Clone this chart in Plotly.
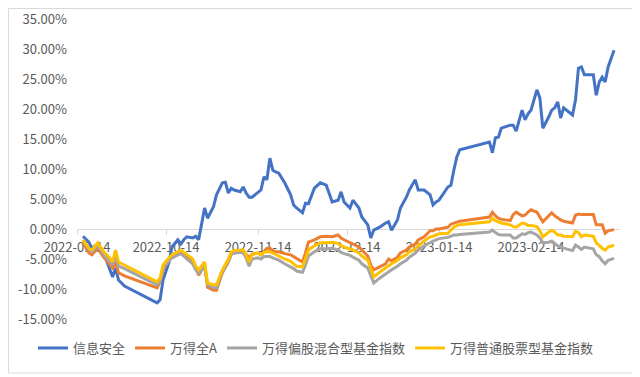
import plotly.graph_objects as go

dates = [
    "2022-09-16", "2022-09-18", "2022-09-19", "2022-09-21", "2022-09-23", "2022-09-25", "2022-09-26", "2022-09-27", "2022-09-28", "2022-09-30",
    "2022-10-11", "2022-10-12", "2022-10-13", "2022-10-15", "2022-10-16", "2022-10-18", "2022-10-19", "2022-10-20", "2022-10-21", "2022-10-23",
    "2022-10-24", "2022-10-25", "2022-10-27", "2022-10-28", "2022-10-30", "2022-10-31",
    "2022-11-02", "2022-11-03", "2022-11-04", "2022-11-05", "2022-11-06", "2022-11-08", "2022-11-09", "2022-11-10", "2022-11-11", "2022-11-12",
    "2022-11-14", "2022-11-15", "2022-11-16", "2022-11-17", "2022-11-18", "2022-11-19", "2022-11-20", "2022-11-21",
    "2022-11-23", "2022-11-25", "2022-11-26", "2022-11-27", "2022-11-29", "2022-11-30", "2022-12-01", "2022-12-03", "2022-12-05", "2022-12-07",
    "2022-12-09", "2022-12-11", "2022-12-12", "2022-12-13",
    "2022-12-15", "2022-12-16", "2022-12-18", "2022-12-19", "2022-12-21", "2022-12-22", "2022-12-23", "2022-12-25", "2022-12-27", "2022-12-28",
    "2022-12-29", "2022-12-31", "2023-01-01",
    "2023-01-03", "2023-01-04", "2023-01-06", "2023-01-07", "2023-01-09", "2023-01-11", "2023-01-12", "2023-01-13", "2023-01-14", "2023-01-17",
    "2023-01-18", "2023-01-19", "2023-01-20", "2023-01-21",
    "2023-01-31", "2023-02-01", "2023-02-02", "2023-02-03", "2023-02-04", "2023-02-07", "2023-02-08", "2023-02-09", "2023-02-11", "2023-02-12",
    "2023-02-13", "2023-02-14",
    "2023-02-16", "2023-02-17", "2023-02-18", "2023-02-20", "2023-02-21", "2023-02-22", "2023-02-23", "2023-02-24", "2023-02-25", "2023-02-28",
    "2023-03-01", "2023-03-02", "2023-03-03", "2023-03-04", "2023-03-07", "2023-03-08", "2023-03-09", "2023-03-10", "2023-03-11", "2023-03-12",
    "2023-03-14",
]

# 信息安全 (%)
info_security = [
    -1.2, -2.2, -3.2, -2.5, -4.0, -6.5, -8.0, -6.5, -8.5, -9.5,
    -12.3, -11.8, -8.5, -5.5, -3.0, -1.8, -2.5, -1.8, -1.3, -1.5,
    -1.2, -1.8, 3.5, 1.8, 3.7, 5.7,
    7.7, 7.8, 6.0, 6.8, 6.5, 6.2, 7.0, 6.0, 5.3, 5.3,
    6.0, 6.5, 8.7, 8.2, 11.8, 9.8, 9.5, 9.3,
    7.7, 5.7, 4.0, 3.5, 2.7, 4.3, 4.2, 6.8, 7.7, 7.3,
    4.5, 4.8, 6.2, 4.5,
    3.5, 4.8, 3.5, 2.0, 0.7, -1.5, -0.2, 0.3, 1.0, 1.2,
    -0.2, 1.5, 3.5,
    5.3, 6.5, 8.2, 6.5, 6.5, 5.7, 4.0, 4.5, 4.8, 7.0,
    7.3, 9.8, 12.0, 13.2,
    14.5, 12.7, 15.2, 15.3, 16.8, 17.3, 17.3, 16.3, 19.8, 18.2,
    19.2, 19.8,
    23.2, 21.8, 16.8, 18.7, 19.8, 20.2, 21.2, 18.5, 20.2, 19.0,
    21.5, 26.8, 27.0, 25.7, 25.7, 22.3, 24.5, 25.3, 24.5, 27.0,
    29.8,
]

# 万得全A (%)
wind_all_a = [
    -2.2, -4.0, -4.3, -3.2, -4.7, -6.0, -6.5, -5.5, -7.3, -7.8,
    -9.8, -8.8, -6.8, -5.2, -4.7, -4.3, -3.8, -4.2, -4.5, -5.2,
    -6.5, -7.7, -6.0, -9.7, -10.2, -10.2,
    -7.3, -6.5, -5.5, -4.2, -4.0, -3.8, -3.8, -4.2, -4.8, -4.2,
    -4.0, -4.3, -3.8, -3.2, -3.2, -3.6, -3.8, -3.8,
    -4.1, -4.3, -4.6, -4.9, -5.5, -4.0, -2.2, -1.8, -1.3, -1.2,
    -1.3, -1.0, -1.5, -1.8,
    -2.2, -2.5, -3.0, -3.5, -4.5, -6.0, -6.8, -6.3, -5.8, -5.0,
    -5.3, -4.7, -4.0,
    -3.5, -3.0, -2.5, -1.8, -1.3, -0.3, -0.3, 0.0, 0.0, 0.3,
    0.8, 1.0, 1.2, 1.3,
    2.0, 2.8, 2.2, 1.8, 1.6, 1.4, 2.4, 2.8, 2.2, 2.3,
    2.8, 3.2,
    2.8, 2.0, 1.2, 2.2, 2.7, 2.2, 1.8, 1.5, 1.3, 1.0,
    2.3, 2.5, 2.4, 2.4, 2.4, 0.7, 0.7, 0.7, -0.7, -0.3,
    -0.1,
]

# 万得偏股混合型基金指数 (%)
wind_hybrid = [
    -1.9, -3.4, -3.8, -2.8, -4.3, -5.5, -6.0, -4.5, -6.2, -6.6,
    -9.3, -8.8, -6.6, -5.3, -4.8, -4.3, -4.1, -4.5, -5.0, -5.8,
    -6.8, -7.3, -6.2, -9.3, -9.8, -9.8,
    -7.2, -6.3, -5.3, -4.2, -4.0, -3.9, -4.0, -4.8, -6.2, -5.0,
    -4.8, -5.0, -4.6, -4.6, -4.6, -4.8, -5.0, -5.2,
    -5.8, -6.3, -6.6, -7.0, -7.2, -6.0, -4.5, -3.8, -3.3, -3.3,
    -3.2, -3.5, -3.9, -4.1,
    -4.4, -4.7, -5.2, -5.8, -6.5, -7.8, -9.0, -8.2, -7.5, -7.0,
    -6.8, -6.2, -5.8,
    -5.2, -4.7, -4.0, -3.5, -2.8, -2.2, -2.0, -1.8, -1.6, -1.4,
    -1.2, -1.0, -1.0, -0.9,
    -0.5, -0.2, -0.6, -0.9, -1.0, -1.0, -1.5, -1.5, -0.8, -0.9,
    -0.6, -0.5,
    -1.0, -1.5, -2.3, -2.2, -2.0, -2.4, -2.8, -3.0, -3.2, -3.6,
    -2.7, -3.0, -3.4, -3.0, -3.3, -4.3, -4.6, -5.3, -5.8, -5.2,
    -4.9,
]

# 万得普通股票型基金指数 (%)
wind_stock = [
    -1.8, -3.2, -3.5, -2.3, -3.8, -4.8, -5.5, -3.5, -5.5, -6.0,
    -8.8, -8.2, -6.0, -4.8, -4.3, -3.8, -3.5, -3.9, -4.3, -5.0,
    -6.2, -6.8, -5.5, -9.0, -9.3, -9.3,
    -6.8, -6.0, -5.0, -3.8, -3.6, -3.5, -3.5, -4.3, -5.5, -4.2,
    -4.0, -4.3, -3.9, -3.8, -3.8, -4.0, -4.3, -4.5,
    -5.0, -5.4, -5.8, -6.2, -6.3, -5.0, -3.5, -2.8, -2.3, -2.3,
    -2.2, -2.4, -2.8, -3.0,
    -3.3, -3.5, -4.0, -4.5, -5.2, -6.5, -8.0, -7.2, -6.5, -6.0,
    -5.8, -5.2, -4.8,
    -4.3, -3.8, -3.3, -2.8, -2.0, -1.3, -1.2, -1.0, -0.8, -0.7,
    -0.2, 0.3, 0.6, 0.7,
    1.2, 1.8, 1.4, 1.2, 1.0, 0.7, 0.4, 0.3, 1.0, 0.9,
    0.6, 0.6,
    0.4, -0.3, -1.3, -0.5, -0.2, -0.5, -1.0, -1.0, -1.2, -1.3,
    -0.4, -0.6, -1.3, -1.0, -1.2, -2.3, -2.8, -3.2, -3.5, -3.0,
    -2.7,
]

series_names = ["信息安全", "万得全A", "万得偏股混合型基金指数", "万得普通股票型基金指数"]
series_values = [info_security, wind_all_a, wind_hybrid, wind_stock]
series_colors = ["#4472C4", "#ED7D31", "#A5A5A5", "#FFC000"]

x_tick_vals = ["2022-09-14", "2022-10-14", "2022-11-14", "2022-12-14", "2023-01-14", "2023-02-14"]
y_tick_vals = [-0.15, -0.10, -0.05, 0.0, 0.05, 0.10, 0.15, 0.20, 0.25, 0.30, 0.35]
y_tick_text = ["-15.00%", "-10.00%", "-5.00%", "0.00%", "5.00%", "10.00%", "15.00%",
               "20.00%", "25.00%", "30.00%", "35.00%"]

FONT = "Noto Sans CJK SC, Noto Sans, sans-serif"
TXT = "#595959"

fig = go.Figure()
for name, vals, col in zip(series_names, series_values, series_colors):
    fig.add_trace(go.Scatter(
        x=dates, y=[v / 100 for v in vals], name=name, mode="lines",
        line=dict(color=col, width=3),
    ))

# the page body has an 8px default margin, so the figure is sized to fill the rest of the window
fig.update_layout(
    width=632, height=369,
    margin=dict(l=69, r=20, t=11, b=58, autoexpand=False),
    paper_bgcolor="white", plot_bgcolor="white",
    font=dict(family=FONT, size=13, color=TXT),
    showlegend=True,
    legend=dict(orientation="h", x=-0.081, xanchor="left",
                y=-0.0967, yanchor="middle", font=dict(size=13, color=TXT),
                itemwidth=30, tracegroupgap=0, bgcolor="rgba(0,0,0,0)"),
    xaxis=dict(
        type="date", range=["2022-09-14", "2023-03-16"],
        anchor="free", position=0.3,
        showline=True, linecolor="#D9D9D9", linewidth=1,
        ticks="outside", ticklen=5, tickcolor="#D9D9D9",
        tickvals=x_tick_vals, ticktext=x_tick_vals, tickangle=0,
        tickfont=dict(size=13, color=TXT),
        showgrid=False, zeroline=False, layer="below traces",
        ticklabelstandoff=1, automargin=False,
    ),
    yaxis=dict(
        range=[-0.15, 0.35], tickvals=y_tick_vals, ticktext=y_tick_text,
        showgrid=False, zeroline=False, showline=False,
        tickfont=dict(size=13, color=TXT), ticklabelstandoff=9, automargin=False,
    ),
    shapes=[dict(type="rect", xref="paper", yref="paper",
                 x0=-0.1262, x1=1.0258, y0=-0.18, y1=1.035,
                 line=dict(color="#D9D9D9", width=1), fillcolor="rgba(0,0,0,0)",
                 layer="below")],
)

fig.write_html("out.html")
